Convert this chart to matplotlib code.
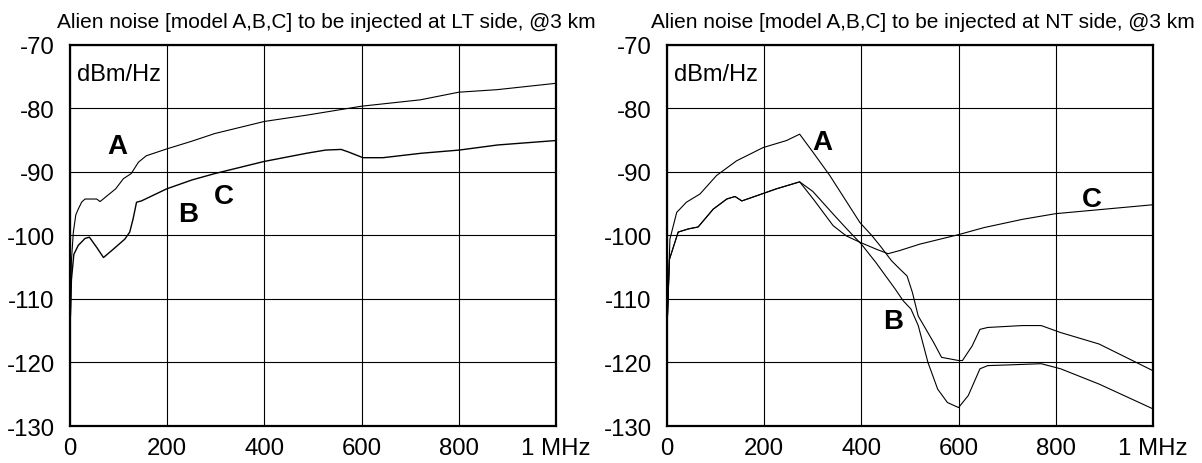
import matplotlib.pyplot as plt

plt.rcParams['font.family'] = ['Liberation Sans', 'DejaVu Sans']
plt.rcParams['axes.unicode_minus'] = False

# ---- LT side ----
lt_a_x = [1, 3, 7, 12, 17, 24, 31, 47, 55, 62, 94, 110, 126, 141, 157, 200, 251, 298, 400, 488, 600, 721, 800, 879, 1000]
lt_a_y = [-112.5, -104, -99.5, -96.8, -95.9, -94.8, -94.3, -94.3, -94.3, -94.7, -92.7, -91.1, -90.3, -88.5, -87.5,
          -86.4, -85.2, -84.0, -82.1, -81.1, -79.7, -78.7, -77.5, -77.1, -76.1]

lt_bc_x = [1, 3, 8, 17, 31, 40, 55, 69, 89, 113, 123, 130, 137, 147, 199, 251, 298, 399, 487, 526, 558, 573, 603,
           644, 723, 801, 880, 1000]
lt_bc_y = [-112.6, -107, -103, -101.6, -100.5, -100.3, -101.9, -103.5, -102.2, -100.6, -99.5, -97.4, -94.8, -94.6,
           -92.7, -91.3, -90.3, -88.4, -87.1, -86.6, -86.5, -86.9, -87.8, -87.8, -87.1, -86.6, -85.8, -85.1]

# ---- NT side ----
nt_a_x = [1, 6, 20, 40, 68, 102, 143, 198, 246, 273, 301, 335, 397, 421, 438, 462, 479, 494, 505, 517, 533, 549,
          565, 600, 608, 628, 644, 660, 731, 770, 810, 889, 1000]
nt_a_y = [-112.7, -100.6, -96.4, -94.8, -93.5, -90.6, -88.3, -86.2, -85.1, -84.1, -87, -90.6, -98, -100, -101.6,
          -104, -105.3, -106.4, -109, -112.7, -114.8, -116.9, -119.2, -119.7, -119.7, -117.4, -114.8, -114.5,
          -114.2, -114.2, -115.3, -117.1, -121.3]

nt_b_x = [1, 5, 23, 44, 64, 95, 123, 140, 154, 184, 225, 273, 300, 340, 370, 400, 430, 470, 486, 502, 517, 537,
          557, 577, 600, 620, 644, 660, 699, 770, 810, 889, 1000]
nt_b_y = [-112.7, -103.8, -99.5, -99, -98.7, -95.9, -94.3, -93.9, -94.6, -93.8, -92.7, -91.6, -93.1, -96.5, -99,
          -101.4, -104.3, -108.5, -110.3, -111.6, -114.2, -120, -124.2, -126.3, -127.1, -125.2, -121, -120.5,
          -120.4, -120.2, -121, -123.4, -127.3]

nt_c_x = [1, 5, 23, 44, 64, 95, 123, 140, 154, 184, 225, 273, 301, 342, 369, 397, 431, 455, 479, 520, 600, 652,
          731, 800, 900, 1000]
nt_c_y = [-112.7, -103.8, -99.5, -99, -98.7, -95.9, -94.3, -93.9, -94.6, -93.8, -92.7, -91.6, -94.3, -98.5,
          -100.1, -101.1, -102.2, -102.9, -102.4, -101.4, -99.9, -98.8, -97.5, -96.6, -95.9, -95.2]

xticks = [0, 200, 400, 600, 800, 1000]
xtick_labels = ['0', '200', '400', '600', '800', '1 MHz']
yticks = [-130, -120, -110, -100, -90, -80, -70]

titles = ['Alien noise [model A,B,C] to be injected at LT side, @3 km',
          'Alien noise [model A,B,C] to be injected at NT side, @3 km']

fig = plt.figure(figsize=(12.02, 4.64), dpi=100)
ax1 = fig.add_axes([0.0582, 0.0797, 0.4043, 0.8222])
ax2 = fig.add_axes([0.5549, 0.0797, 0.4043, 0.8222])

ax1.plot(lt_a_x, lt_a_y, color='black', lw=0.8)
ax1.plot(lt_bc_x, lt_bc_y, color='black', lw=1.0)

ax2.plot(nt_a_x, nt_a_y, color='black', lw=0.8)
ax2.plot(nt_b_x, nt_b_y, color='black', lw=0.8)
ax2.plot(nt_c_x, nt_c_y, color='black', lw=0.8)

ax1.text(97, -86, 'A', fontsize=20, fontweight='bold', ha='center', va='center')
ax1.text(243, -96.6, 'B', fontsize=20, fontweight='bold', ha='center', va='center')
ax1.text(317, -93.9, 'C', fontsize=20, fontweight='bold', ha='center', va='center')

ax2.text(319, -85.3, 'A', fontsize=20, fontweight='bold', ha='center', va='center')
ax2.text(465, -113.5, 'B', fontsize=20, fontweight='bold', ha='center', va='center')
ax2.text(874, -94.3, 'C', fontsize=20, fontweight='bold', ha='center', va='center')

for ax, title, cx in zip([ax1, ax2], titles, [0.2712, 0.768]):
    ax.set_xlim(0, 1000)
    ax.set_ylim(-130, -70)
    ax.set_xticks(xticks)
    ax.set_xticklabels(xtick_labels)
    ax.set_yticks(yticks)
    ax.tick_params(length=0, labelsize=17.3, pad=11)
    ax.tick_params(axis='x', pad=8)
    ax.grid(True, color='black', lw=0.8)
    for s in ax.spines.values():
        s.set_linewidth(1.6)
    ax.text(0.0144, 0.923, 'dBm/Hz', transform=ax.transAxes, fontsize=17, va='center', ha='left')
    fig.text(cx, 0.952, title, fontsize=15, ha='center', va='center')

plt.savefig('out.png', dpi=100)
